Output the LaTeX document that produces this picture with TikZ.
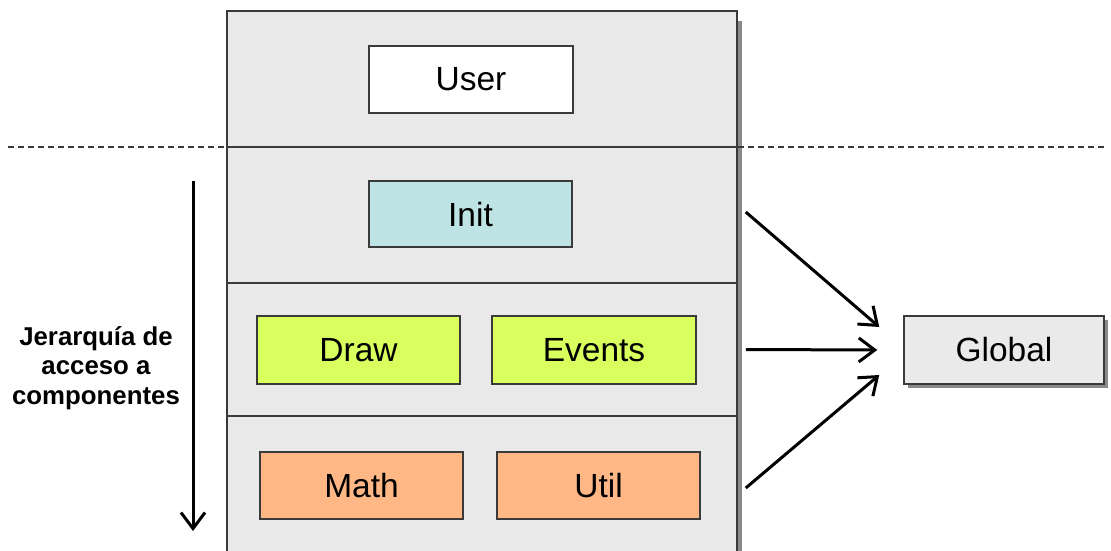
\documentclass[tikz,border=0pt]{standalone}
\usepackage{fontspec}
\setmainfont{Liberation Sans}
\usetikzlibrary{arrows.meta,shadows,calc}
\definecolor{panelfill}{HTML}{E9E9E9}
\definecolor{boxline}{HTML}{3A3A3A}
\definecolor{shadowgray}{HTML}{8A8A8A}
\definecolor{initfill}{HTML}{BEE3E4}
\definecolor{greenfill}{HTML}{D8FF5E}
\definecolor{orangefill}{HTML}{FFB885}
\definecolor{globalfill}{HTML}{EAEAEA}
\begin{document}
\begin{tikzpicture}[x=1pt,y=-1pt,
  layer/.style={draw=boxline, line width=1.5pt, fill=panelfill, minimum width=510pt, inner sep=0pt},
  box/.style={draw=boxline, line width=1.5pt, minimum width=203pt, minimum height=67pt, inner sep=0pt, font=\fontsize{33.5}{40}\selectfont},
  arr/.style={line width=3pt, -{Straight Barb[length=16pt, width=24pt]}},
  sepline/.style={draw=boxline, line width=1.5pt, dash pattern=on 6pt off 4pt},
]
\useasboundingbox (0,0) rectangle (1111,551);
\clip (0,0) rectangle (1111,551);
\fill[white] (0,0) rectangle (1111,551);
% panel shadow
\fill[shadowgray] (737,21) rectangle (742,560);
% dashed separator
\coordinate (dl) at (8,147);
\coordinate (dr) at (1105,147);
\draw[sepline] (dl) -- (dr);
% layers
\node[layer, minimum height=136pt] (layer0) at (482,79) {};
\node[layer, minimum height=136pt] (layer1) at (482,215) {};
\node[layer, minimum height=133pt] (layer2) at (482,349.5) {};
\node[layer, minimum height=144pt] (layer3) at (482,488) {};
% boxes
\node[box, fill=white, minimum width=204pt] (user) at (471,79.5) {User};
\node[box, fill=initfill, minimum height=66pt] (init) at (470.5,214) {Init};
\node[box, fill=greenfill, minimum height=68pt] (draw) at (358.5,350) {Draw};
\node[box, fill=greenfill, minimum height=68pt, minimum width=204pt] (events) at (594,350) {Events};
\node[box, fill=orangefill] (math) at (361.5,485.5) {Math};
\node[box, fill=orangefill] (util) at (598.5,485.5) {Util};
\node[box, fill=globalfill, minimum width=200pt, minimum height=68pt,
  drop shadow={shadow xshift=4pt, shadow yshift=-4pt, fill=shadowgray, opacity=1}] (global) at (1004,350) {Global};
% arrows to Global
\coordinate (g1) at ($(global.west)+(-24,-23)$);
\coordinate (g2) at ($(global.west)+(-26,0)$);
\coordinate (g3) at ($(global.west)+(-24,25)$);
\draw[arr] ([xshift=8pt,yshift=3pt]layer1.east) -- (g1);
\draw[arr] ([xshift=8pt]layer2.east) -- (g2);
\draw[arr] ([xshift=8pt]layer3.east) -- (g3);
% hierarchy arrow
\coordinate (hs) at (193,181);
\coordinate (he) at (193,531);
\draw[arr] (hs) -- (he);
\node[align=center, inner sep=0pt, font=\bfseries\fontsize{25.8}{29.5}\selectfont] (label) at (96,368) {Jerarquía de\\acceso a\\componentes};
\end{tikzpicture}
\end{document}
